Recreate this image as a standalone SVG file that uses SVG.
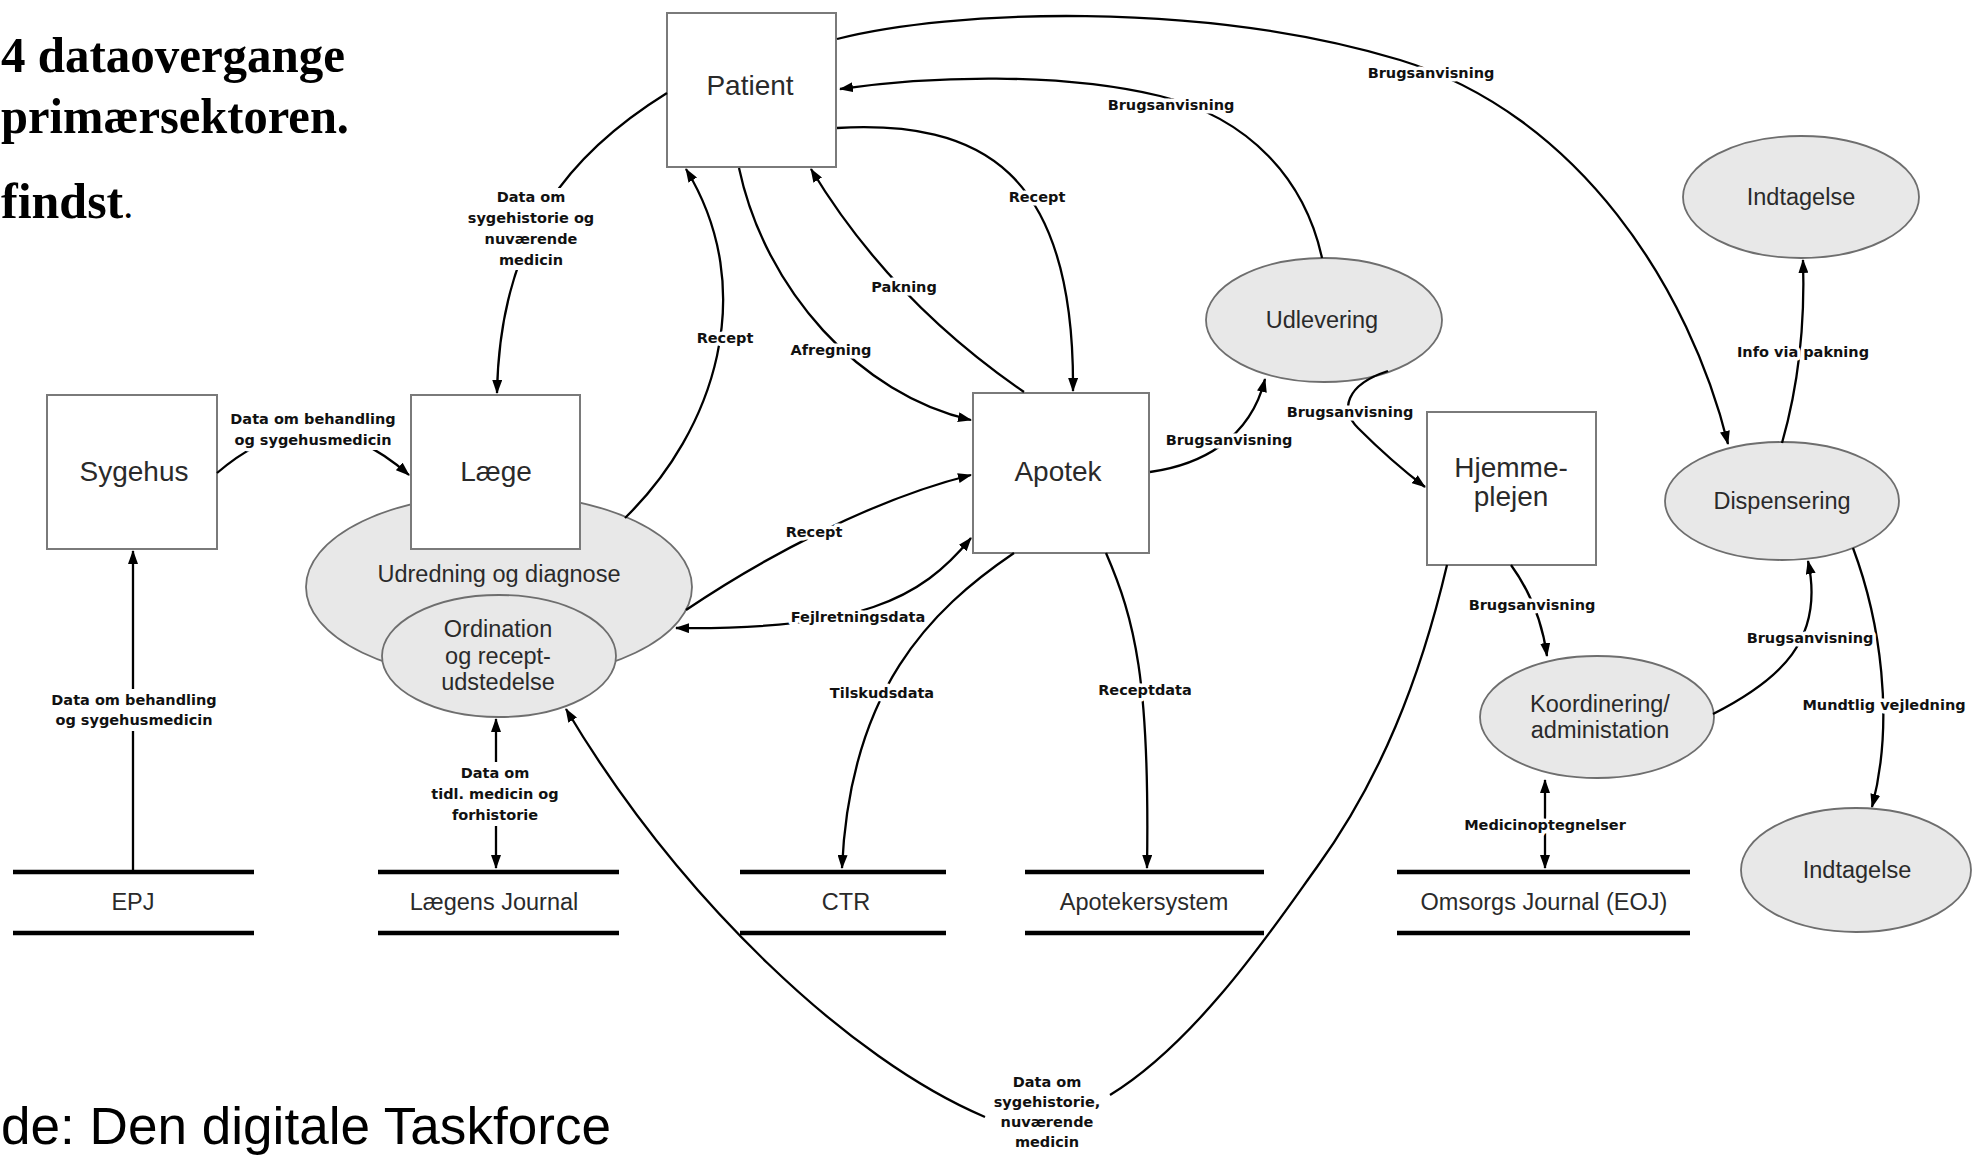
<svg xmlns="http://www.w3.org/2000/svg" width="1974" height="1156" viewBox="0 0 1974 1156">
<defs>
<marker id="ah" markerUnits="userSpaceOnUse" markerWidth="14" markerHeight="10" refX="13" refY="5" orient="auto-start-reverse">
<path d="M0,0 L14,5 L0,10 z" fill="#000"/>
</marker>
<style>
.box{fill:#fff;stroke:#7a7a7a;stroke-width:2}
.ell{fill:#e8e8e8;stroke:#6e6e6e;stroke-width:1.8}
.nt{font-family:"Liberation Sans",Arial,sans-serif;font-size:28px;fill:#2a2a2a;text-anchor:middle}
.et{font-family:"Liberation Sans",Arial,sans-serif;font-size:23.5px;fill:#2a2a2a;text-anchor:middle}
.bar{stroke:#000;stroke-width:4.5}
.c{fill:none;stroke:#000;stroke-width:2.3}
.a{marker-end:url(#ah)}
.b{marker-start:url(#ah);marker-end:url(#ah)}
.lb{font-family:"DejaVu Sans",Verdana,sans-serif;font-weight:bold;font-size:14.5px;fill:#111;text-anchor:middle;stroke:#fff;stroke-width:7;stroke-linejoin:round;paint-order:stroke}
.bg{fill:#fff}
.title{font-family:"Liberation Serif","Times New Roman",serif;font-weight:bold;font-size:50px;fill:#000}
</style>
</defs>
<rect width="1974" height="1156" fill="#fff"/>

<g id="title">
<text class="title" x="1" y="72" textLength="344" lengthAdjust="spacingAndGlyphs">4 dataovergange</text>
<text class="title" x="1" y="133" textLength="348" lengthAdjust="spacingAndGlyphs">primærsektoren.</text>
<text class="title" x="1" y="218">findst<tspan font-weight="normal" font-size="40">.</tspan></text>
</g>
<text id="source" x="1" y="1144" font-family="'Liberation Sans',Arial,sans-serif" font-size="51" fill="#000" textLength="610" lengthAdjust="spacingAndGlyphs">de: Den digitale Taskforce</text>

<g id="node-udredning">
<ellipse class="ell" cx="499" cy="587" rx="193" ry="93"/>
<text class="et" x="499" y="582">Udredning og diagnose</text>
</g>
<g id="node-ordination">
<ellipse class="ell" cx="499" cy="656" rx="117" ry="61"/>
<text class="et" x="498" y="637">Ordination</text>
<text class="et" x="498" y="664">og recept-</text>
<text class="et" x="498" y="690">udstedelse</text>
</g>
<g id="node-patient">
<rect class="box" x="667" y="13" width="169" height="154"/>
<text class="nt" x="750" y="95">Patient</text>
</g>
<g id="node-sygehus">
<rect class="box" x="47" y="395" width="170" height="154"/>
<text class="nt" x="134" y="481">Sygehus</text>
</g>
<g id="node-laege">
<rect class="box" x="411" y="395" width="169" height="154"/>
<text class="nt" x="496" y="481">Læge</text>
</g>
<g id="node-apotek">
<rect class="box" x="973" y="393" width="176" height="160"/>
<text class="nt" x="1058" y="481">Apotek</text>
</g>
<g id="node-hjemmeplejen">
<rect class="box" x="1427" y="412" width="169" height="153"/>
<text class="nt" x="1511" y="477">Hjemme-</text>
<text class="nt" x="1511" y="506">plejen</text>
</g>
<g id="node-udlevering">
<ellipse class="ell" cx="1324" cy="320" rx="118" ry="62"/>
<text class="et" x="1322" y="328">Udlevering</text>
</g>
<g id="node-indtagelse-top">
<ellipse class="ell" cx="1801" cy="197" rx="118" ry="61"/>
<text class="et" x="1801" y="205">Indtagelse</text>
</g>
<g id="node-dispensering">
<ellipse class="ell" cx="1782" cy="501" rx="117" ry="59"/>
<text class="et" x="1782" y="509">Dispensering</text>
</g>
<g id="node-koordinering">
<ellipse class="ell" cx="1597" cy="717" rx="117" ry="61"/>
<text class="et" x="1600" y="712">Koordinering/</text>
<text class="et" x="1600" y="738">administation</text>
</g>
<g id="node-indtagelse-bottom">
<ellipse class="ell" cx="1856" cy="870" rx="115" ry="62"/>
<text class="et" x="1857" y="878">Indtagelse</text>
</g>

<g id="store-epj">
<line class="bar" x1="13" y1="872" x2="254" y2="872"/>
<line class="bar" x1="13" y1="933" x2="254" y2="933"/>
<text class="et" x="133" y="910">EPJ</text>
</g>
<g id="store-laegens-journal">
<line class="bar" x1="378" y1="872" x2="619" y2="872"/>
<line class="bar" x1="378" y1="933" x2="619" y2="933"/>
<text class="et" x="494" y="910">Lægens Journal</text>
</g>
<g id="store-ctr">
<line class="bar" x1="740" y1="872" x2="946" y2="872"/>
<line class="bar" x1="740" y1="933" x2="946" y2="933"/>
<text class="et" x="846" y="910">CTR</text>
</g>
<g id="store-apotekersystem">
<line class="bar" x1="1025" y1="872" x2="1264" y2="872"/>
<line class="bar" x1="1025" y1="933" x2="1264" y2="933"/>
<text class="et" x="1144" y="910">Apotekersystem</text>
</g>
<g id="store-eoj">
<line class="bar" x1="1397" y1="872" x2="1690" y2="872"/>
<line class="bar" x1="1397" y1="933" x2="1690" y2="933"/>
<text class="et" x="1544" y="910">Omsorgs Journal (EOJ)</text>
</g>

<g id="connectors">
<path class="c a" d="M667,93 C575,150 500,230 497,393"/>
<path class="c a" d="M217,473 Q313,390 409,475"/>
<path class="c a" d="M133,870 L133,551"/>
<path class="c b" d="M496,868 L496,719"/>
<path class="c a" d="M625,518 C715,430 760,290 686,169"/>
<path class="c a" d="M739,168 C765,290 860,395 971,420"/>
<path class="c a" d="M1024,392 Q890,300 811,169"/>
<path class="c a" d="M837,128 C980,120 1075,170 1073,391"/>
<path class="c a" d="M1322,258 C1305,180 1250,118 1160,96 C1060,72 930,76 840,89"/>
<path class="c a" d="M837,39 C950,10 1200,0 1400,60 C1580,115 1690,290 1728,444"/>
<path class="c a" d="M1150,472 C1200,465 1250,440 1265,379"/>
<path class="c a" d="M1388,371 C1345,385 1340,410 1358,428 C1380,450 1400,468 1425,487"/>
<path class="c a" d="M686,610 C760,560 870,500 971,475"/>
<path class="c b" d="M971,538 C920,600 860,630 676,628"/>
<path class="c a" d="M1014,553 C930,610 850,690 842,868"/>
<path class="c a" d="M1106,553 C1135,620 1150,680 1147,868"/>
<path class="c a" d="M1511,565 Q1540,605 1547,656"/>
<path class="c a" d="M1713,714 C1780,680 1825,640 1808,561"/>
<path class="c a" d="M1782,443 C1800,380 1805,320 1803,260"/>
<path class="c a" d="M1853,548 C1880,620 1895,720 1872,807"/>
<path class="c b" d="M1545,868 L1545,780"/>
<path class="c" d="M1447,565 C1420,680 1380,780 1317,867 C1280,918 1200,1040 1110,1095"/>
<path class="c a" d="M985,1117 C850,1060 680,900 566,709"/>

<rect class="bg" x="459" y="188" width="145" height="82"/>
<text class="lb" x="531" y="202">Data om</text>
<text class="lb" x="531" y="223">sygehistorie og</text>
<text class="lb" x="531" y="244">nuværende</text>
<text class="lb" x="531" y="265">medicin</text>

<rect class="bg" x="221" y="409" width="184" height="41"/>
<text class="lb" x="313" y="424">Data om behandling</text>
<text class="lb" x="313" y="445">og sygehusmedicin</text>

<rect class="bg" x="42" y="689" width="184" height="42"/>
<text class="lb" x="134" y="705">Data om behandling</text>
<text class="lb" x="134" y="725">og sygehusmedicin</text>

<rect class="bg" x="430" y="762" width="132" height="64"/>
<text class="lb" x="495" y="778">Data om</text>
<text class="lb" x="495" y="799">tidl. medicin og</text>
<text class="lb" x="495" y="820">forhistorie</text>

<rect class="bg" x="987" y="1072" width="122" height="84"/>
<text class="lb" x="1047" y="1087">Data om</text>
<text class="lb" x="1047" y="1107">sygehistorie,</text>
<text class="lb" x="1047" y="1127">nuværende</text>
<text class="lb" x="1047" y="1147">medicin</text>

<text class="lb" x="725" y="343">Recept</text>
<text class="lb" x="831" y="355">Afregning</text>
<text class="lb" x="904" y="292">Pakning</text>
<text class="lb" x="1037" y="202">Recept</text>
<text class="lb" x="1171" y="110">Brugsanvisning</text>
<text class="lb" x="1431" y="78">Brugsanvisning</text>
<text class="lb" x="1229" y="445">Brugsanvisning</text>
<text class="lb" x="1350" y="417">Brugsanvisning</text>
<text class="lb" x="814" y="537">Recept</text>
<text class="lb" x="858" y="622">Fejlretningsdata</text>
<text class="lb" x="882" y="698">Tilskudsdata</text>
<text class="lb" x="1145" y="695">Receptdata</text>
<text class="lb" x="1532" y="610">Brugsanvisning</text>
<text class="lb" x="1810" y="643">Brugsanvisning</text>
<text class="lb" x="1803" y="357">Info via pakning</text>
<text class="lb" x="1884" y="710">Mundtlig vejledning</text>
<text class="lb" x="1545" y="830">Medicinoptegnelser</text>
</g>
</svg>
